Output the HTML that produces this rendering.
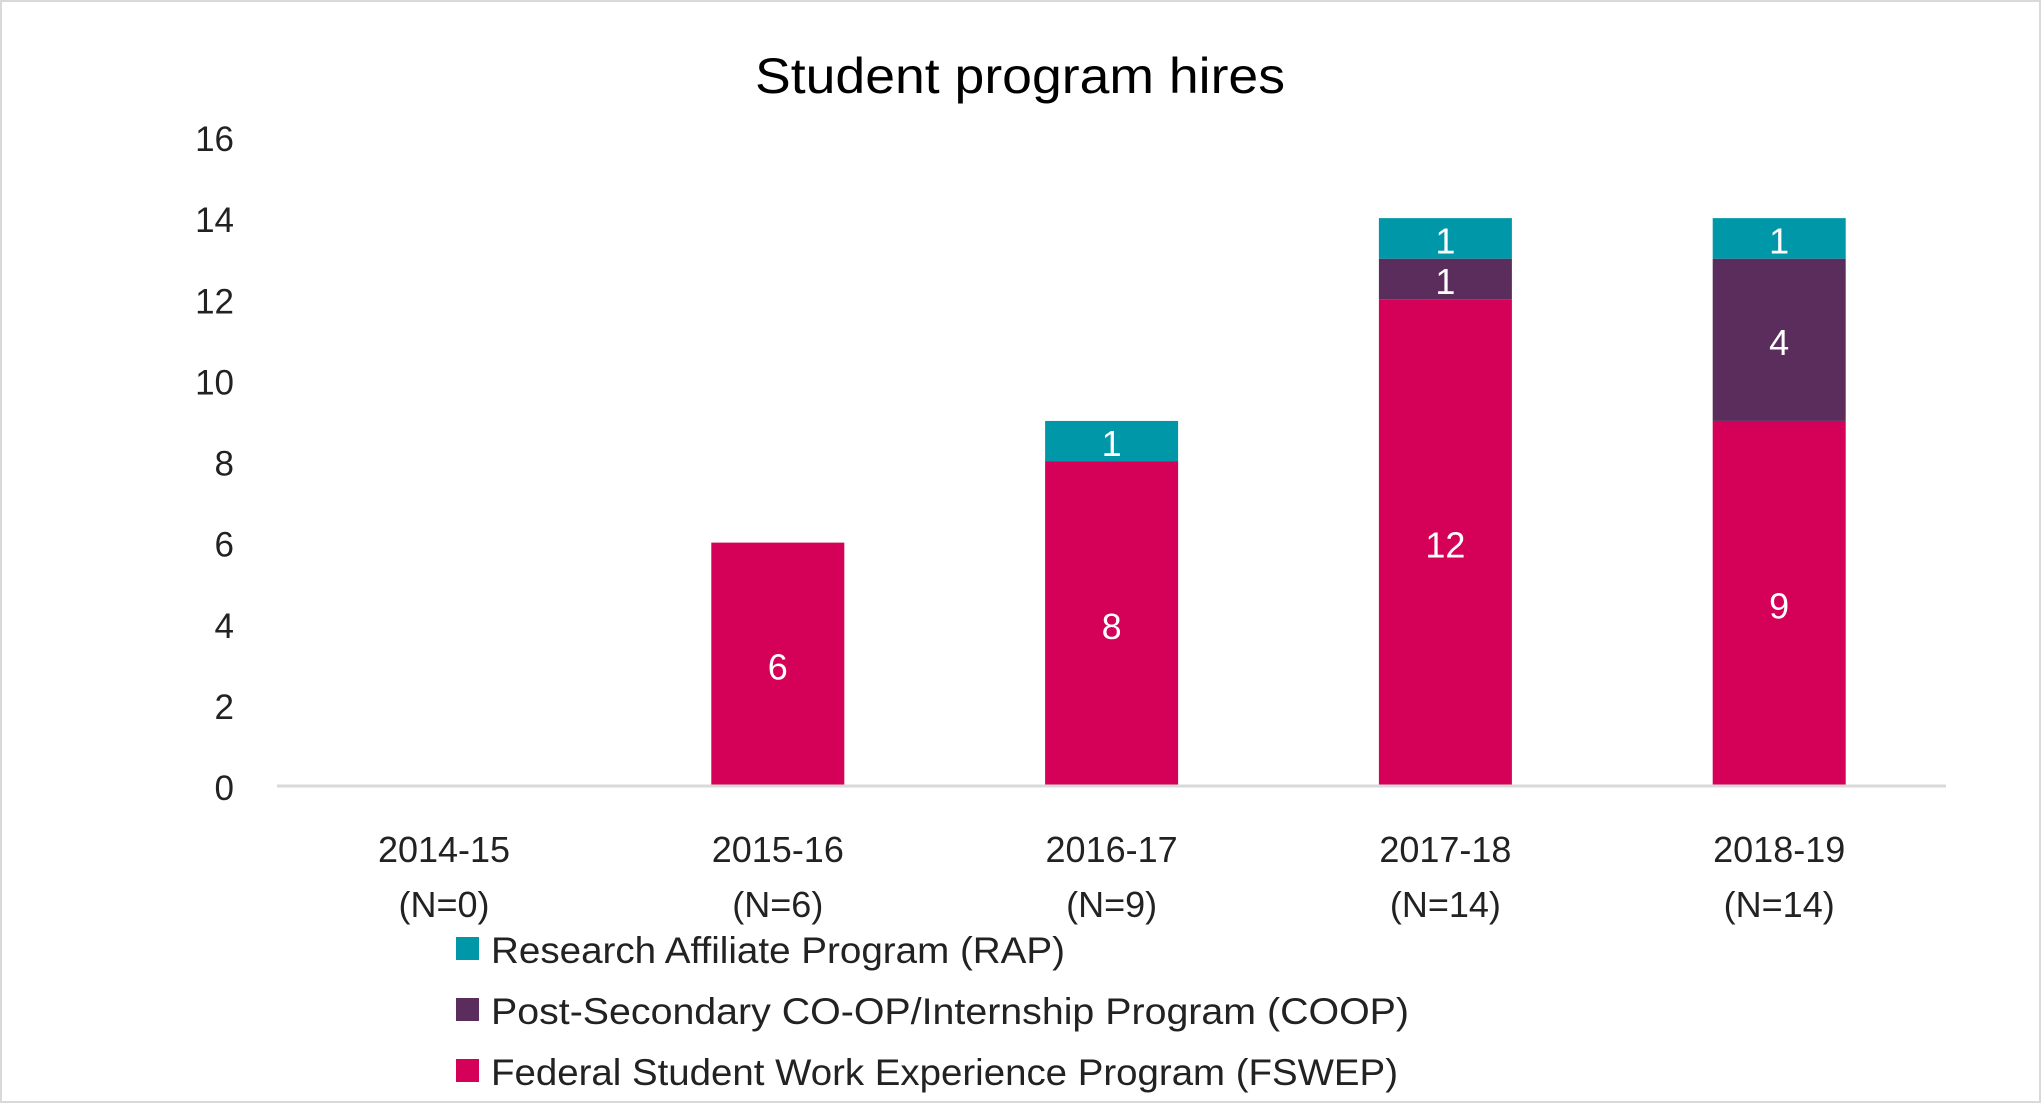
<!DOCTYPE html>
<html><head><meta charset="utf-8"><style>
html,body{margin:0;padding:0;background:#fff}
svg{display:block;font-family:"Liberation Sans",sans-serif}
</style></head><body>
<svg id="chart" width="2041" height="1103">
<rect x="1" y="1" width="2039" height="1101" fill="#fff" stroke="#d9d9d9" stroke-width="2"/>
<text x="1020" y="93" text-anchor="middle" font-size="50" textLength="530" lengthAdjust="spacingAndGlyphs" fill="#000">Student program hires</text>
<g id="yaxis"></g><g id="bars"></g><g id="xaxis"></g><g id="legend"></g>
</svg>
<script>
const categories=["2014-15","2015-16","2016-17","2017-18","2018-19"];
const nLabels=["(N=0)","(N=6)","(N=9)","(N=14)","(N=14)"];
const fswep=[0,6,8,12,9];
const coop=[0,0,0,1,4];
const rap=[0,0,1,1,1];
const yTicks=[0,2,4,6,8,10,12,14,16];
const seriesNames=["Research Affiliate Program (RAP)","Post-Secondary CO-OP/Internship Program (COOP)","Federal Student Work Experience Program (FSWEP)"];
const legendTextWidths=[574,918,907];
const NS="http://www.w3.org/2000/svg";
const y0=786,y16=137,x0=277,x1=1946;
function ys(v){return y0-(y0-y16)*v/16;}
function xc(i){return 444+i*333.8;}
const bw=133;
function mk(tag,attrs,parent){const e=document.createElementNS(NS,tag);for(const k in attrs)e.setAttribute(k,attrs[k]);parent.appendChild(e);return e;}
const ya=document.getElementById('yaxis');
yTicks.forEach(t=>{const e=mk('text',{x:234,y:ys(t)+14,'text-anchor':'end','font-size':35,fill:'#222'},ya);


e.textContent=t;});
const bars=document.getElementById('bars');
const series=[[fswep,'#d50057','fswep'],[coop,'#5a2d5c','coop'],[rap,'#0098a8','rap']];
categories.forEach((c,i)=>{let base=0;
series.forEach(([arr,col,nm])=>{const v=arr[i];if(v>0){
const r=mk('rect',{x:xc(i)-bw/2,y:ys(base+v),width:bw,height:ys(base)-ys(base+v),fill:col},bars);


const t=mk('text',{x:xc(i),y:(ys(base)+ys(base+v))/2+15,'text-anchor':'middle','font-size':36,fill:'#fff'},bars);


t.textContent=v;}
base+=v;});});
const xa=document.getElementById('xaxis');
const ln=mk('line',{x1:x0,x2:x1,y1:y0,y2:y0,stroke:'#d9d9d9','stroke-width':3},xa);


categories.forEach((c,i)=>{
const a=mk('text',{x:xc(i),y:862,'text-anchor':'middle','font-size':36,fill:'#222'},xa);


a.textContent=c;
const b=mk('text',{x:xc(i),y:917,'text-anchor':'middle','font-size':36,fill:'#222'},xa);


b.textContent=nLabels[i];});
const lg=document.getElementById('legend');
const lcols=['#0098a8','#5a2d5c','#d50057'];
seriesNames.forEach((s,i)=>{const y=949+i*61;
const r=mk('rect',{x:456,y:y-12,width:23,height:23,fill:lcols[i]},lg);


const t=mk('text',{x:491,y:y+14,'font-size':37,fill:'#222',textLength:legendTextWidths[i],lengthAdjust:'spacingAndGlyphs'},lg);


t.textContent=s;});
</script>
</body></html>
